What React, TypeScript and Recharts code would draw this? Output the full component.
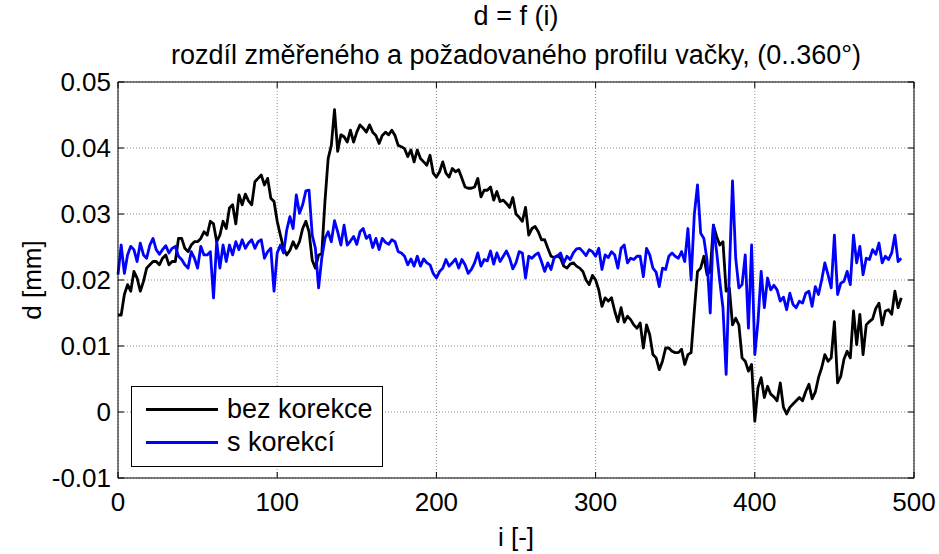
import React from 'react';
import { LineChart, Line, XAxis, YAxis, CartesianGrid, ReferenceLine } from 'recharts';

// samples taken every 2nd index of i
const STEP = 2;

const bezKorekce = [
  0.0147, 0.0147, 0.0178, 0.0193, 0.0183, 0.0213, 0.0203, 0.0183, 0.0198, 0.0218,
  0.0223, 0.0228, 0.0228, 0.0223, 0.0233, 0.0238, 0.0223, 0.0228, 0.0228, 0.0263,
  0.0263, 0.0248, 0.0243, 0.0253, 0.0258, 0.0258, 0.0263, 0.0273, 0.0268, 0.0289,
  0.0285, 0.0258, 0.0268, 0.0289, 0.0278, 0.0309, 0.0314, 0.0285, 0.0329, 0.0314,
  0.0330, 0.0320, 0.0314, 0.0349, 0.0354, 0.0359, 0.0344, 0.0354, 0.0324, 0.0319,
  0.0289, 0.0268, 0.0248, 0.0238, 0.0245, 0.0258, 0.0248, 0.0258, 0.0278, 0.0289,
  0.0273, 0.0230, 0.0218, 0.0238, 0.0240, 0.0319, 0.0384, 0.0404, 0.0458, 0.0395,
  0.0420, 0.0417, 0.0409, 0.0427, 0.0409, 0.0424, 0.0435, 0.0430, 0.0424, 0.0435,
  0.0424, 0.0419, 0.0407, 0.0419, 0.0424, 0.0420, 0.0427, 0.0419, 0.0404, 0.0402,
  0.0399, 0.0387, 0.0397, 0.0379, 0.0397, 0.0384, 0.0379, 0.0374, 0.0389, 0.0362,
  0.0356, 0.0364, 0.0379, 0.0362, 0.0356, 0.0369, 0.0364, 0.0367, 0.0354, 0.0341,
  0.0339, 0.0339, 0.0341, 0.0354, 0.0326, 0.0336, 0.0336, 0.0341, 0.0321, 0.0334,
  0.0319, 0.0321, 0.0316, 0.0310, 0.0325, 0.0300, 0.0295, 0.0289, 0.0310, 0.0268,
  0.0278, 0.0281, 0.0273, 0.0261, 0.0261, 0.0248, 0.0236, 0.0234, 0.0237, 0.0233,
  0.0221, 0.0218, 0.0224, 0.0226, 0.0221, 0.0218, 0.0213, 0.0200, 0.0193, 0.0207,
  0.0200, 0.0185, 0.0160, 0.0173, 0.0168, 0.0173, 0.0153, 0.0137, 0.0158, 0.0136,
  0.0145, 0.0140, 0.0132, 0.0127, 0.0135, 0.0097, 0.0132, 0.0117, 0.0087, 0.0082,
  0.0064, 0.0077, 0.0097, 0.0097, 0.0092, 0.0090, 0.0090, 0.0095, 0.0072, 0.0087,
  0.0090, 0.0153, 0.0213, 0.0218, 0.0236, 0.0208, 0.0213, 0.0283, 0.0266, 0.0253,
  0.0258, 0.0183, 0.0188, 0.0132, 0.0142, 0.0132, 0.0082, 0.0077, 0.0062, 0.0072,
  -0.0014, 0.0037, 0.0052, 0.0022, 0.0039, 0.0027, 0.0023, 0.0017, 0.0044, 0.0007,
  -0.0003, 0.0007, 0.0012, 0.0017, 0.0022, 0.0017, 0.0031, 0.0042, 0.0020, 0.0030,
  0.0052, 0.0067, 0.0087, 0.0077, 0.0082, 0.0137, 0.0044, 0.0054, 0.0080, 0.0092,
  0.0082, 0.0153, 0.0102, 0.0148, 0.0087, 0.0132, 0.0137, 0.0141, 0.0157, 0.0165,
  0.0132, 0.0153, 0.0155, 0.0148, 0.0183, 0.0158, 0.0173,
];

const sKorekci = [
  0.0208, 0.0253, 0.0210, 0.0238, 0.0251, 0.0246, 0.0228, 0.0256, 0.0238, 0.0233,
  0.0253, 0.0263, 0.0246, 0.0239, 0.0246, 0.0252, 0.0241, 0.0248, 0.0251, 0.0236,
  0.0231, 0.0223, 0.0218, 0.0243, 0.0233, 0.0218, 0.0251, 0.0238, 0.0238, 0.0243,
  0.0173, 0.0258, 0.0218, 0.0253, 0.0228, 0.0253, 0.0238, 0.0258, 0.0246, 0.0261,
  0.0248, 0.0256, 0.0261, 0.0248, 0.0258, 0.0261, 0.0233, 0.0243, 0.0248, 0.0183,
  0.0241, 0.0253, 0.0241, 0.0276, 0.0296, 0.0278, 0.0329, 0.0301, 0.0314, 0.0335,
  0.0336, 0.0268, 0.0248, 0.0188, 0.0233, 0.0263, 0.0273, 0.0258, 0.0290, 0.0273,
  0.0253, 0.0283, 0.0253, 0.0259, 0.0266, 0.0254, 0.0273, 0.0278, 0.0263, 0.0268,
  0.0249, 0.0263, 0.0246, 0.0263, 0.0257, 0.0254, 0.0261, 0.0258, 0.0243, 0.0241,
  0.0236, 0.0223, 0.0232, 0.0221, 0.0236, 0.0221, 0.0232, 0.0226, 0.0223, 0.0210,
  0.0203, 0.0213, 0.0218, 0.0231, 0.0221, 0.0226, 0.0232, 0.0218, 0.0231, 0.0223,
  0.0210, 0.0216, 0.0226, 0.0241, 0.0221, 0.0231, 0.0229, 0.0244, 0.0224, 0.0241,
  0.0228, 0.0236, 0.0244, 0.0233, 0.0217, 0.0226, 0.0243, 0.0241, 0.0203, 0.0236,
  0.0233, 0.0238, 0.0241, 0.0228, 0.0213, 0.0226, 0.0216, 0.0234, 0.0236, 0.0241,
  0.0226, 0.0236, 0.0231, 0.0241, 0.0247, 0.0248, 0.0243, 0.0237, 0.0246, 0.0243,
  0.0236, 0.0248, 0.0216, 0.0238, 0.0234, 0.0243, 0.0238, 0.0218, 0.0248, 0.0253,
  0.0226, 0.0233, 0.0231, 0.0236, 0.0236, 0.0205, 0.0248, 0.0238, 0.0218, 0.0212,
  0.0190, 0.0218, 0.0216, 0.0236, 0.0241, 0.0236, 0.0233, 0.0243, 0.0228, 0.0278,
  0.0200, 0.0299, 0.0344, 0.0271, 0.0263, 0.0230, 0.0150, 0.0283, 0.0243, 0.0198,
  0.0158, 0.0057, 0.0210, 0.0350, 0.0233, 0.0188, 0.0193, 0.0238, 0.0127, 0.0253,
  0.0087, 0.0137, 0.0213, 0.0158, 0.0203, 0.0185, 0.0192, 0.0185, 0.0168, 0.0174,
  0.0155, 0.0180, 0.0163, 0.0158, 0.0168, 0.0165, 0.0180, 0.0183, 0.0160, 0.0190,
  0.0178, 0.0200, 0.0226, 0.0208, 0.0188, 0.0268, 0.0178, 0.0195, 0.0198, 0.0213,
  0.0193, 0.0268, 0.0226, 0.0251, 0.0208, 0.0233, 0.0231, 0.0246, 0.0239, 0.0256,
  0.0226, 0.0236, 0.0231, 0.0241, 0.0268, 0.0228, 0.0233,
];

const xTicks = [0, 100, 200, 300, 400, 500];
const yTicks = [-0.01, 0, 0.01, 0.02, 0.03, 0.04, 0.05];

const data = bezKorekce.map((v, k) => ({ i: k * STEP, bez: v, s: sKorekci[k] }));

const FONT = '"Liberation Sans", Arial, sans-serif';
const FS = 26;
const FS_BIG = 27;
const LEFT = 118;
const RIGHT = 914;
const TOP = 82;
const BOTTOM = 478;

const YTick = (props: any) => {
  const { y, payload } = props;
  return (
    <g>
      <text x={LEFT - 7} y={y} dy="0.36em" textAnchor="end" fontSize={FS} fontFamily={FONT} fill="#000">
        {String(payload.value)}
      </text>
      <line x1={LEFT} x2={LEFT + 6} y1={y} y2={y} stroke="#000" />
      <line x1={RIGHT} x2={RIGHT - 6} y1={y} y2={y} stroke="#000" />
    </g>
  );
};

const XTick = (props: any) => {
  const { x, payload } = props;
  return (
    <g>
      <text x={x} y={BOTTOM + 24} dy="0.36em" textAnchor="middle" fontSize={FS} fontFamily={FONT} fill="#000">
        {String(payload.value)}
      </text>
      <line x1={x} x2={x} y1={BOTTOM} y2={BOTTOM - 6} stroke="#000" />
      <line x1={x} x2={x} y1={TOP} y2={TOP + 6} stroke="#000" />
    </g>
  );
};

const legendItems = [
  { name: 'bez korekce', color: '#000000' },
  { name: 's korekcí', color: '#0000ff' },
];

const titleStyle: React.CSSProperties = {
  position: 'absolute', left: 66, width: 900, textAlign: 'center', fontSize: FS_BIG, lineHeight: '32px', color: '#000', whiteSpace: 'nowrap',
};

export default function App() {
  return (
    <div style={{ position: 'absolute', left: 0, top: 0, width: 939, height: 554, background: '#fff', fontFamily: FONT }}>
      <div style={{ ...titleStyle, top: 0 }}>d = f (i)</div>
      <div style={{ ...titleStyle, top: 39 }}>rozdíl změřeného a požadovaného profilu vačky, (0..360°)</div>
      <LineChart width={939} height={554} data={data} margin={{ top: TOP, right: 939 - RIGHT, bottom: 0, left: 0 }}>
        <CartesianGrid stroke="#8a8a8a" strokeDasharray="1 2" />
        <XAxis
          dataKey="i"
          type="number"
          domain={[0, 500]}
          ticks={xTicks}
          height={554 - BOTTOM}
          tick={XTick}
          tickLine={false}
          axisLine={{ stroke: '#000' }}
          interval={0}
          label={{ value: 'i [-]', position: 'insideBottom', offset: 8, fontSize: FS, fontFamily: FONT, fill: '#000' }}
        />
        <YAxis
          type="number"
          domain={[-0.01, 0.05]}
          ticks={yTicks}
          width={LEFT}
          tick={YTick}
          tickLine={false}
          axisLine={{ stroke: '#000' }}
          interval={0}
          allowDataOverflow
          label={{ value: 'd [mm]', angle: -90, position: 'insideLeft', offset: 32, fontSize: FS, fontFamily: FONT, fill: '#000', style: { textAnchor: 'middle' } }}
        />
        <ReferenceLine y={0.05} stroke="#000" />
        <ReferenceLine x={500} stroke="#000" />
        <Line dataKey="bez" stroke="#000000" strokeWidth={2.8} dot={false} isAnimationActive={false} strokeLinejoin="round" />
        <Line dataKey="s" stroke="#0000ff" strokeWidth={2.8} dot={false} isAnimationActive={false} strokeLinejoin="round" />
      </LineChart>
      <div style={{ position: 'absolute', left: 131, top: 386, width: 250, height: 79, border: '1px solid #000', background: '#fff' }}>
        {legendItems.map((it, k) => (
          <div key={it.name} style={{ position: 'absolute', left: 14, top: 7 + k * 33, height: 30, display: 'flex', alignItems: 'center' }}>
            <div style={{ width: 72, height: 3, background: it.color, marginRight: 9 }} />
            <span style={{ fontSize: FS_BIG, color: '#000', whiteSpace: 'nowrap' }}>{it.name}</span>
          </div>
        ))}
      </div>
    </div>
  );
}
